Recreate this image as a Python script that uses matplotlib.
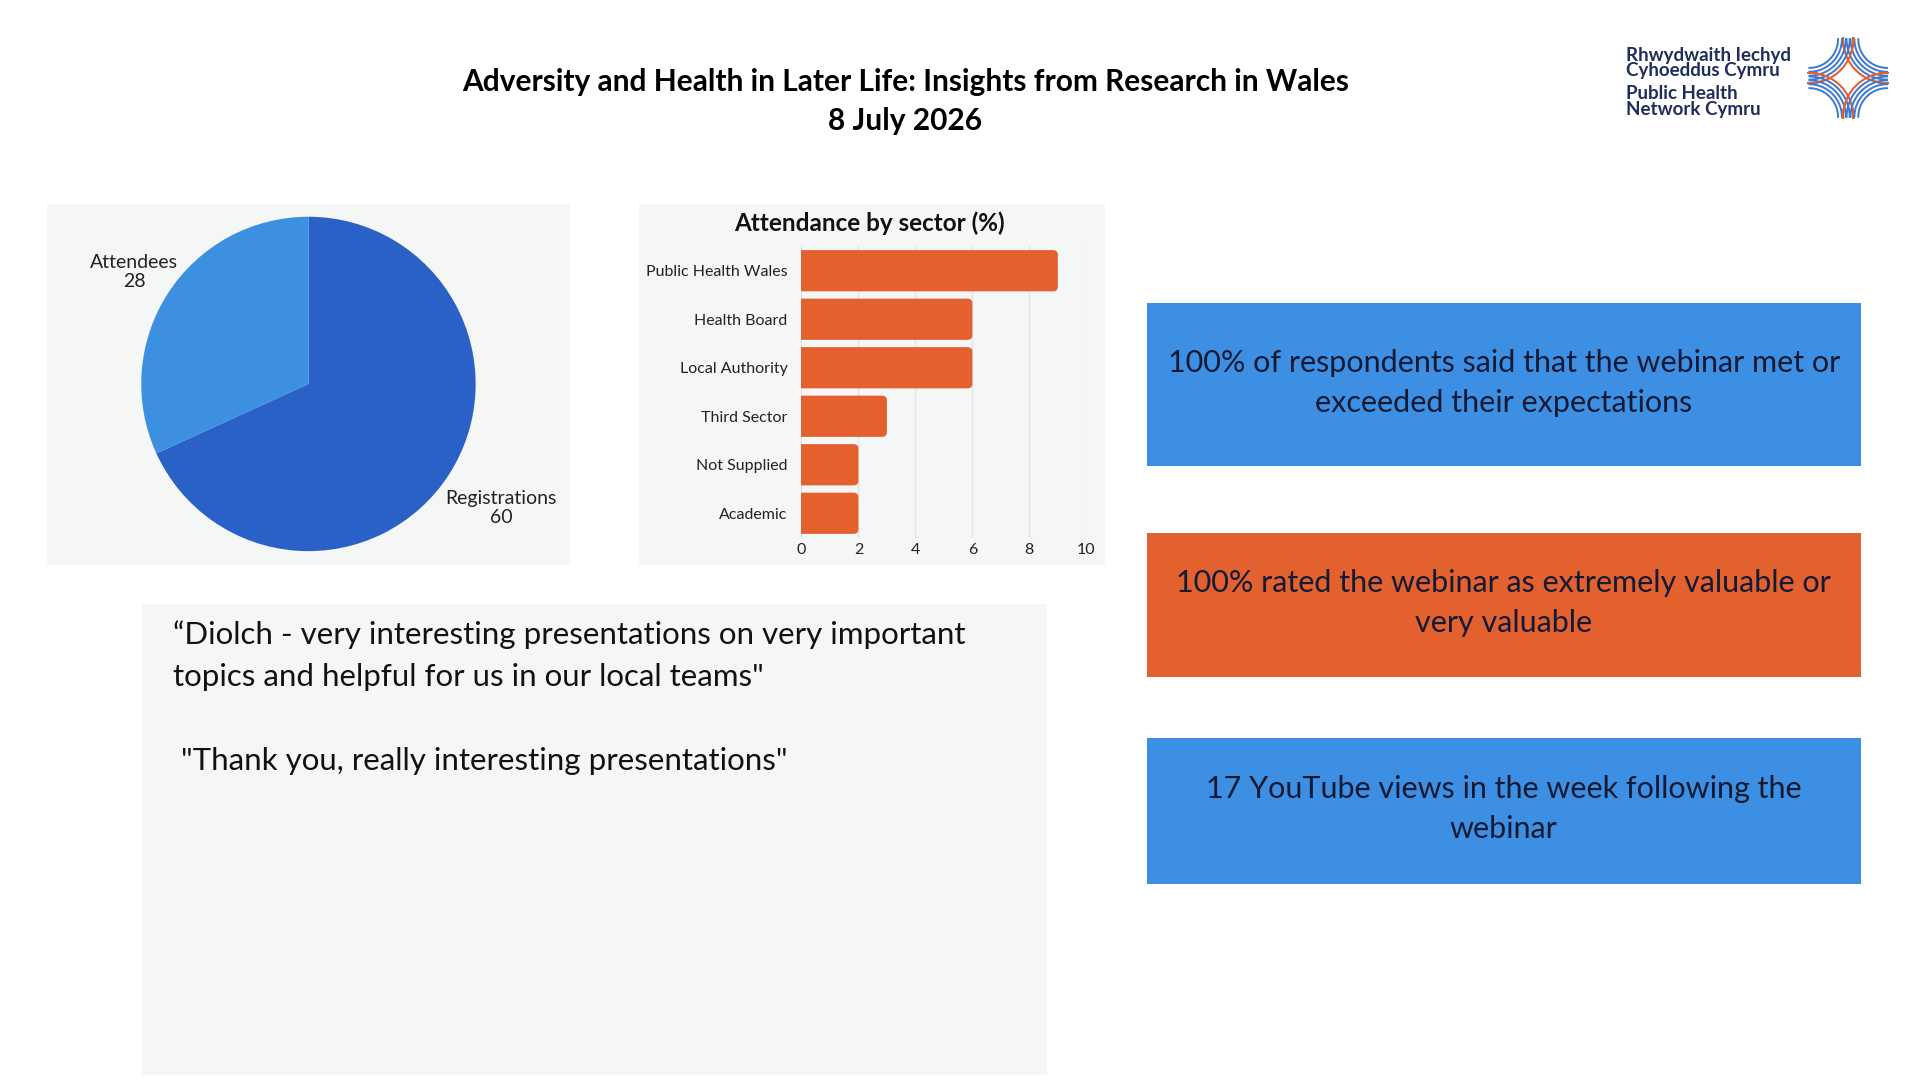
import numpy as np
import matplotlib
matplotlib.use("Agg")
import matplotlib.pyplot as plt
from matplotlib.patches import Rectangle, FancyBboxPatch

# data
pie_labels = ["Registrations", "Attendees"]
pie_values = [60, 28]
pie_colors = ["#2a61c6", "#3d8fe0"]

sectors = ["Public Health Wales", "Health Board", "Local Authority",
           "Third Sector", "Not Supplied", "Academic"]
sector_pct = [9, 6, 6, 3, 2, 2]

title_lines = "Adversity and Health in Later Life: Insights from Research in Wales\n8 July 2026"
quote_text = ("\u201cDiolch - very interesting presentations on very important\n"
              "topics and helpful for us in our local teams\"\n\n"
              " \"Thank you, really interesting presentations\"")
stat_texts = ["100% of respondents said that the webinar met or\nexceeded their expectations",
              "100% rated the webinar as extremely valuable or\nvery valuable",
              "17 YouTube views in the week following the\nwebinar"]
stat_colors = ["#3d8fe3", "#e2612e", "#3d8fe3"]

FONT = "Lato"
PANEL = "#f5f7f6"
ORANGE = "#e2612e"
TEXT_DARK = "#141a33"
W, H = 1550.0, 872.0  # layout measured on a scaled copy of the slide


def fx(x):
    return x / W


def fy(y):
    return 1 - y / H


def rect(x0, y0, x1, y1):
    return [fx(x0), fy(y1), (x1 - x0) / W, (y1 - y0) / H]


plt.rcParams["font.family"] = [FONT, "DejaVu Sans"]
fig = plt.figure(figsize=(19.2, 10.8), dpi=100, facecolor="white")

# background panels
for (x0, y0, x1, y1) in [(38, 165, 460, 456), (516, 165, 892, 456), (115, 488, 845, 868)]:
    fig.patches.append(Rectangle((fx(x0), fy(y1)), (x1 - x0) / W, (y1 - y0) / H,
                                 transform=fig.transFigure, facecolor=PANEL,
                                 edgecolor="none", zorder=-5))

# title
fig.text(fx(731), fy(82), title_lines, ha="center", va="center", fontsize=21.5,
         fontweight="bold", color="black", linespacing=1.5)

# pie chart
r = 135
ax_pie = fig.add_axes([fx(249 - r), fy(310 + r), 2 * r / W, 2 * r / H], zorder=2)
wedges, _ = ax_pie.pie(pie_values, colors=pie_colors, startangle=90,
                       counterclock=False, radius=1.0,
                       wedgeprops=dict(linewidth=0))
ax_pie.set_xlim(-1, 1)
ax_pie.set_ylim(-1, 1)
ax_pie.set_aspect("equal")
ax_pie.axis("off")
for w, lab, val, dist in zip(wedges, pie_labels, pie_values, [1.37, 1.24]):
    ang = np.deg2rad((w.theta1 + w.theta2) / 2)
    ax_pie.text(dist * np.cos(ang), dist * np.sin(ang), f"{lab}\n{val}",
                ha="center", va="center", fontsize=14, color="#222222",
                linespacing=1.15, clip_on=False)

# bar chart
ax_bar = fig.add_axes(rect(647, 199, 877, 434), zorder=2)
ypos = np.arange(len(sectors))
bars = ax_bar.barh(ypos, sector_pct, height=0.85, color=ORANGE)
ax_bar.set_xlim(0, 10)
ax_bar.set_ylim(len(sectors) - 0.5, -0.5)
ax_bar.set_facecolor("none")
# rounded right-hand ends
aspect = (1 / 39.3) / (1 / 23.0)
for b in bars:
    b.set_visible(False)
    x, y = b.get_x(), b.get_y()
    ax_bar.add_patch(FancyBboxPatch((x - 0.4, y), b.get_width() + 0.4, b.get_height(),
                                    boxstyle="round,pad=0,rounding_size=0.17",
                                    mutation_aspect=aspect, facecolor=ORANGE,
                                    edgecolor="none", zorder=3, clip_on=True))
ax_bar.set_yticks(ypos)
ax_bar.set_yticklabels(sectors)
ax_bar.set_xticks([0, 2, 4, 6, 8, 10])
ax_bar.tick_params(axis="both", length=0, labelsize=11.5, labelcolor="#222222")
ax_bar.tick_params(axis="y", pad=10)
ax_bar.tick_params(axis="x", pad=4)
ax_bar.grid(axis="x", color="#e2e2e2", linewidth=1, zorder=0)
ax_bar.set_axisbelow(True)
for s in ax_bar.spines.values():
    s.set_visible(False)
fig.text(fx(702), fy(180), "Attendance by sector (%)", ha="center", va="center",
         fontsize=17.5, fontweight="bold", color="#111111")

# quote panel text
fig.text(fx(140), fy(501), quote_text, ha="left", va="top", fontsize=22.5,
         color="#111111", linespacing=1.6)

# stat boxes
boxes = [(926, 245, 1502, 376), (926, 430, 1502, 547), (926, 596, 1502, 714)]
for (x0, y0, x1, y1), txt, col in zip(boxes, stat_texts, stat_colors):
    fig.patches.append(Rectangle((fx(x0), fy(y1)), (x1 - x0) / W, (y1 - y0) / H,
                                 transform=fig.transFigure, facecolor=col,
                                 edgecolor="none", zorder=-4))
    fig.text(fx((x0 + x1) / 2), fy((y0 + y1) / 2 - 1.5), txt, ha="center", va="center",
             fontsize=22, color=TEXT_DARK, linespacing=1.52)

# logo
fig.text(fx(1313), fy(51), "Rhwydwaith Iechyd\nCyhoeddus Cymru", ha="left", va="center",
         fontsize=13.5, fontweight="bold", color="#1f2d5c", linespacing=0.9)
fig.text(fx(1313), fy(82), "Public Health\nNetwork Cymru", ha="left", va="center",
         fontsize=13.5, fontweight="bold", color="#1f2d5c", linespacing=0.9)
s = 33
ax_logo = fig.add_axes([fx(1492 - s), fy(63 + s), 2 * s / W, 2 * s / H], zorder=2)
th = np.linspace(0, 2 * np.pi, 600)
for sx, sy in [(1, 1), (-1, 1), (-1, -1), (1, -1)]:
    for rk in [0.74, 0.84, 0.94, 1.04]:
        xs, ys = sx + rk * np.cos(th), sy + rk * np.sin(th)
        keep = (np.abs(xs) <= 1.0) & (np.abs(ys) <= 1.0)
        ax_logo.plot(np.where(keep, xs, np.nan), np.where(keep, ys, np.nan),
                     color="#3a78d4", linewidth=1.4)
    b = 1.0
    tip = 0.46
    rb = np.hypot(b, b - tip)
    baseb = np.degrees(np.arctan2(-sy * b, -sx * b))
    half = abs(np.degrees(np.arctan2(tip - b, -b)) - 180)
    tb = np.radians(np.linspace(baseb - half, baseb + half, 60))
    ax_logo.plot(sx * b + rb * np.cos(tb), sy * b + rb * np.sin(tb),
                 color="#e2612e", linewidth=1.5)
ax_logo.set_xlim(-1.05, 1.05)
ax_logo.set_ylim(-1.05, 1.05)
ax_logo.set_aspect("equal")
ax_logo.axis("off")

fig.savefig("out.png", dpi=100, facecolor="white")
